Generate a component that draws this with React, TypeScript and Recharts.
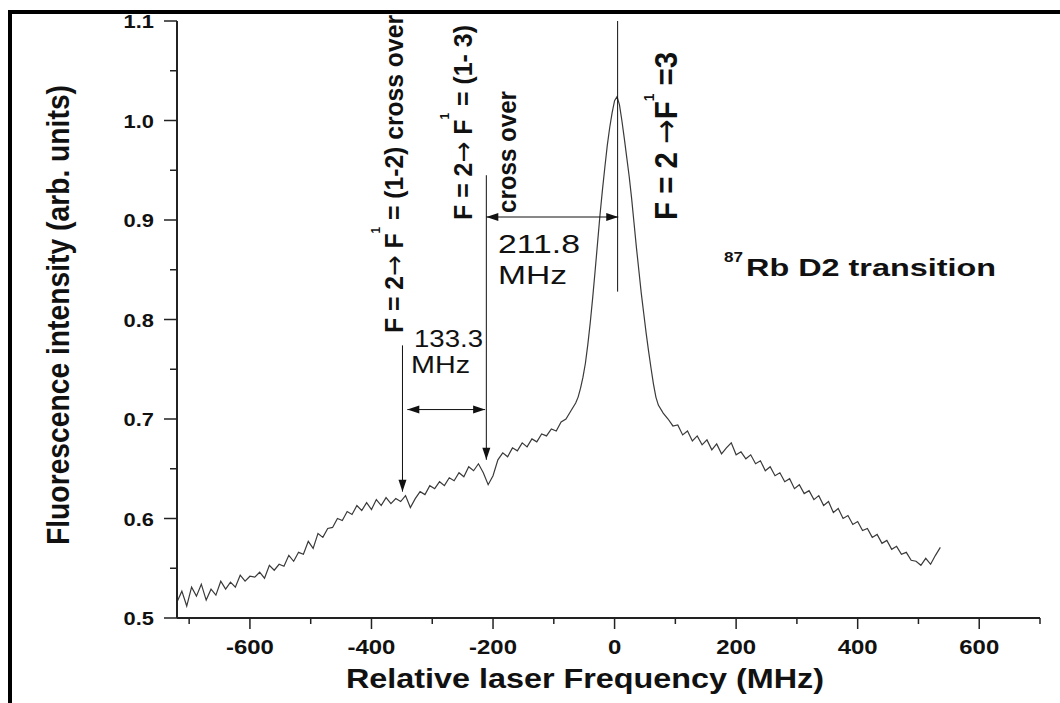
import { LineChart, Line, XAxis, YAxis, ReferenceLine } from 'recharts';

const FONT = '"Liberation Sans", Arial, Helvetica, sans-serif';
const ARROW_FONT = '"DejaVu Sans", sans-serif';

// frequency sampling (MHz) and fluorescence
const freqMHz = [
  -720, -712, -704, -696, -688, -680, -672, -664,
  -656, -648, -640, -632, -624, -616, -608, -600,
  -592, -584, -576, -568, -560, -552, -544, -536,
  -528, -520, -512, -504, -496, -488, -480, -472,
  -464, -456, -448, -440, -432, -424, -416, -408,
  -400, -392, -384, -376, -368, -360, -352, -344,
  -336, -328, -320, -312, -304, -296, -288, -280,
  -272, -264, -256, -248, -240, -232, -224, -216,
  -208, -200, -192, -184, -176, -168, -160, -152,
  -144, -136, -128, -120, -112, -104, -96, -88,
  -80, -72, -64,
  -60, -56, -52, -48, -44, -40, -36, -32,
  -28, -24, -20, -16, -12, -8, -4, 0,
  4, 8, 12, 16, 20, 24, 28, 32,
  36, 40, 44, 48, 52, 56, 60, 64,
  68,
  72, 80, 88, 96, 104, 112, 120, 128,
  136, 144, 152, 160, 168, 176, 184, 192,
  200, 208, 216, 224, 232, 240, 248, 256,
  264, 272, 280, 288, 296, 304, 312, 320,
  328, 336, 344, 352, 360, 368, 376, 384,
  392, 400, 408, 416, 424, 432, 440, 448,
  456, 464, 472, 480, 488, 496, 504, 512,
  520, 528, 536,
];

const intensity = [
  0.516, 0.527, 0.512, 0.531, 0.522, 0.534, 0.518, 0.529,
  0.523, 0.537, 0.529, 0.536, 0.531, 0.543, 0.537, 0.542,
  0.541, 0.546, 0.540, 0.553, 0.548, 0.554, 0.552, 0.563,
  0.557, 0.566, 0.564, 0.577, 0.570, 0.585, 0.581, 0.590,
  0.591, 0.600, 0.598, 0.607, 0.604, 0.613, 0.608, 0.616,
  0.609, 0.619, 0.613, 0.621, 0.615, 0.620, 0.617, 0.623,
  0.611, 0.620, 0.627, 0.624, 0.633, 0.630, 0.637, 0.633,
  0.641, 0.638, 0.646, 0.642, 0.652, 0.648, 0.655, 0.646,
  0.634, 0.643, 0.659, 0.666, 0.662, 0.671, 0.668, 0.676,
  0.672, 0.680, 0.677, 0.685, 0.683, 0.690, 0.688, 0.697,
  0.700, 0.708, 0.716,
  0.722, 0.731, 0.742, 0.756, 0.775, 0.797, 0.822, 0.849,
  0.877, 0.905, 0.930, 0.953, 0.975, 0.993, 1.008, 1.020,
  1.024, 1.016, 1.000, 0.982, 0.963, 0.944, 0.922, 0.897,
  0.872, 0.849, 0.826, 0.806, 0.786, 0.768, 0.751, 0.735,
  0.722,
  0.714, 0.706, 0.700, 0.693, 0.694, 0.684, 0.688, 0.678,
  0.683, 0.674, 0.679, 0.669, 0.675, 0.665, 0.671, 0.676,
  0.664, 0.667, 0.660, 0.664, 0.655, 0.658, 0.648, 0.652,
  0.643, 0.646, 0.637, 0.640, 0.630, 0.634, 0.625, 0.628,
  0.619, 0.623, 0.613, 0.617, 0.606, 0.610, 0.600, 0.603,
  0.594, 0.597, 0.588, 0.590, 0.581, 0.584, 0.575, 0.578,
  0.569, 0.572, 0.564, 0.566, 0.558, 0.557, 0.553, 0.560,
  0.554, 0.563, 0.571,
];

const xTicks = [-700, -600, -500, -400, -300, -200, -100, 0, 100, 200, 300, 400, 500, 600, 700];
const yTicks = [0.5, 0.55, 0.6, 0.65, 0.7, 0.75, 0.8, 0.85, 0.9, 0.95, 1.0, 1.05, 1.1];
const yMajor = [0.5, 0.6, 0.7, 0.8, 0.9, 1.0, 1.1];

// annotation lines / arrows, in data units
const markers = [
  { x1: 5, y1: 0.828, x2: 5, y2: 1.1, heads: [] as string[] },
  { x1: -211, y1: 0.945, x2: -211, y2: 0.659, heads: ['end'] },
  { x1: -349, y1: 0.774, x2: -349, y2: 0.627, heads: ['end'] },
  { x1: -341, y1: 0.7095, x2: -213, y2: 0.7095, heads: ['start', 'end'] },
  { x1: -211, y1: 0.903, x2: 6, y2: 0.903, heads: ['start', 'end'] },
];

const data = freqMHz.map((f, i) => ({ f, v: intensity[i] }));

const AX_X = 177;
const AX_Y = 618;

function headPts(xt: number, yt: number, xf: number, yf: number) {
  const dx = xt - xf, dy = yt - yf;
  const len = Math.hypot(dx, dy) || 1;
  const ux = dx / len, uy = dy / len;
  const L = 12, W = 4;
  const bx = xt - ux * L, by = yt - uy * L;
  return `${xt},${yt} ${bx - uy * W},${by + ux * W} ${bx + uy * W},${by - ux * W}`;
}

function Arrow(props: any) {
  const { x1, y1, x2, y2, heads } = props;
  return (
    <g>
      <line x1={x1} y1={y1} x2={x2} y2={y2} stroke="#111" strokeWidth={1} />
      {heads.includes('start') && <polygon points={headPts(x1, y1, x2, y2)} fill="#111" />}
      {heads.includes('end') && <polygon points={headPts(x2, y2, x1, y1)} fill="#111" />}
    </g>
  );
}

function YTick(props: any) {
  const { y, payload } = props;
  const v = payload.value;
  const major = yMajor.some(m => Math.abs(m - v) < 1e-6);
  return (
    <g>
      <line x1={AX_X - (major ? 13 : 7)} x2={AX_X} y1={y} y2={y} stroke="#222" strokeWidth={1.5} />
      {major && (
        <text transform={`translate(${AX_X - 23},${y + 7}) scale(1.15,1)`} textAnchor="end"
          fontSize={19} fontWeight={700} fontFamily={FONT} fill="#111">{v.toFixed(1)}</text>
      )}
    </g>
  );
}

function XTick(props: any) {
  const { x, payload } = props;
  const major = payload.value % 200 === 0;
  return (
    <g>
      <line x1={x} x2={x} y1={AX_Y} y2={AX_Y + (major ? 11 : 6)} stroke="#222" strokeWidth={1.5} />
      {major && (
        <text transform={`translate(${x},654) scale(1.14,1)`} textAnchor="middle"
          fontSize={21} fontWeight={700} fontFamily={FONT} fill="#111">{payload.value}</text>
      )}
    </g>
  );
}

function Txt({ x, y, size, bold = true, len, rot = false, sy = 1.15, anchor = 'start', children }: any) {
  const t = rot ? `translate(${x},${y}) rotate(-90) scale(1,${sy})` : `translate(${x},${y})`;
  return (
    <text transform={t} fontSize={size} fontWeight={bold ? 700 : 400} fontFamily={FONT}
      textAnchor={anchor} textLength={len} lengthAdjust="spacingAndGlyphs" fill="#111">
      {children}
    </text>
  );
}

const Arr = () => <tspan fontFamily={ARROW_FONT} fontWeight={400}>→</tspan>;

export default function App() {
  return (
    <div style={{ position: 'relative', width: 1060, height: 703, overflow: 'hidden', background: '#fff' }}>
      <style>{'body{margin:0;overflow:hidden}'}</style>
      <div style={{ position: 'absolute', left: 0, top: 0 }}>
        <LineChart width={1060} height={703} data={data} margin={{ top: 21, right: 20, bottom: 0, left: 0 }}>
          <XAxis dataKey="f" type="number" domain={[-720, 700]} ticks={xTicks} interval={0}
            tick={(p: any) => <XTick {...p} />} tickLine={false} height={85} allowDataOverflow
            axisLine={{ stroke: '#222', strokeWidth: 2 }} />
          <YAxis type="number" domain={[0.5, 1.1]} ticks={yTicks} interval={0}
            tick={(p: any) => <YTick {...p} />} tickLine={false} width={177} allowDataOverflow
            axisLine={{ stroke: '#222', strokeWidth: 2 }} />
          <Line dataKey="v" type="linear" stroke="#3a3a3a" strokeWidth={1.2} dot={false} isAnimationActive={false} />
          {markers.map((m, i) => (
            <ReferenceLine key={i} segment={[{ x: m.x1, y: m.y1 }, { x: m.x2, y: m.y2 }]} ifOverflow="visible"
              shape={(p: any) => <Arrow {...p} heads={m.heads} />} />
          ))}
        </LineChart>
      </div>
      <svg width={1060} height={703} style={{ position: 'absolute', left: 0, top: 0, pointerEvents: 'none' }}>
        {/* frame */}
        <rect x={0} y={0} width={1060} height={10} fill="#fff" />
        <rect x={0} y={0} width={8} height={703} fill="#fff" />
        <rect x={8} y={10} width={1052} height={4} fill="#000" />
        <rect x={8} y={10} width={4} height={693} fill="#000" />

        {/* axis titles */}
        <Txt x={69} y={315} size={28} len={460} rot anchor="middle">Fluorescence intensity (arb. units)</Txt>
        <Txt x={346} y={688} size={28} len={478}>Relative laser Frequency (MHz)</Txt>

        {/* transition labels */}
        <Txt x={403} y={333} size={23} len={318} rot>
          F = 2<Arr /> F<tspan dy={-20} fontSize={11}>1</tspan><tspan dy={20}> = (1-2) cross over</tspan>
        </Txt>
        <Txt x={472} y={220} size={23} len={195} rot>
          F = 2<Arr /> F<tspan dy={-20} fontSize={11}>1</tspan><tspan dy={20}> = (1- 3)</tspan>
        </Txt>
        <Txt x={516} y={213} size={23} len={122} rot>cross over</Txt>
        <Txt x={677} y={220} size={28} len={168} rot>
          F = 2 <Arr />F<tspan dy={-20} fontSize={13}>1</tspan><tspan dy={20}> =3</tspan>
        </Txt>

        {/* spacing labels */}
        <Txt x={414} y={347} size={24} bold={false} len={69}>133.3</Txt>
        <Txt x={411} y={373} size={24} bold={false} len={59}>MHz</Txt>
        <Txt x={498} y={253} size={25} bold={false} len={82}>211.8</Txt>
        <Txt x={498} y={284} size={25} bold={false} len={69}>MHz</Txt>

        <Txt x={724} y={262} size={14} len={19}>87</Txt>
        <Txt x={746} y={275.5} size={24} len={250}>Rb D2 transition</Txt>
      </svg>
    </div>
  );
}
